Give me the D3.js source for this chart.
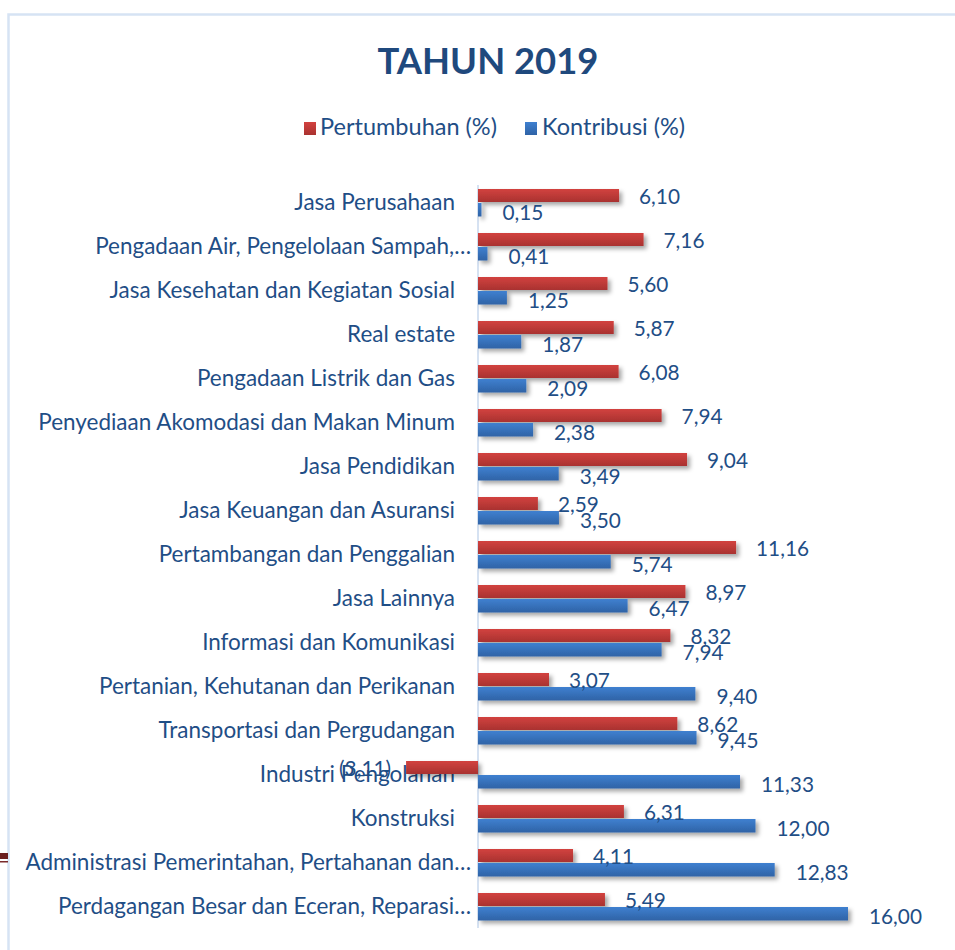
<!DOCTYPE html>
<html>
<head>
<meta charset="utf-8">
<script src="https://cdn.jsdelivr.net/npm/d3@7"></script>
<style>
  html, body { margin: 0; padding: 0; background: #fff; }
  svg { display: block; }
  text { font-family: Lato, "Open Sans", "Noto Sans", sans-serif; }
</style>
</head>
<body>
<svg id="chart" width="955" height="950"></svg>
<script>
const categories = [
  "Jasa Perusahaan",
  "Pengadaan Air, Pengelolaan Sampah,…",
  "Jasa Kesehatan dan Kegiatan Sosial",
  "Real estate",
  "Pengadaan Listrik dan Gas",
  "Penyediaan Akomodasi dan Makan Minum",
  "Jasa Pendidikan",
  "Jasa Keuangan dan Asuransi",
  "Pertambangan dan Penggalian",
  "Jasa Lainnya",
  "Informasi dan Komunikasi",
  "Pertanian, Kehutanan dan Perikanan",
  "Transportasi dan Pergudangan",
  "Industri Pengolahan",
  "Konstruksi",
  "Administrasi Pemerintahan, Pertahanan dan…",
  "Perdagangan Besar dan Eceran, Reparasi…"
];
const pertumbuhan = [6.10, 7.16, 5.60, 5.87, 6.08, 7.94, 9.04, 2.59, 11.16, 8.97, 8.32, 3.07, 8.62, -3.11, 6.31, 4.11, 5.49];
const kontribusi  = [0.15, 0.41, 1.25, 1.87, 2.09, 2.38, 3.49, 3.50, 5.74, 6.47, 7.94, 9.40, 9.45, 11.33, 12.00, 12.83, 16.00];
const seriesNames = ["Pertumbuhan (%)", "Kontribusi (%)"];
const title = "TAHUN 2019";

const textColor = "#1f4e86";
const svg = d3.select("#chart");
const defs = svg.append("defs");

function grad(id, top, bottom) {
  const g = defs.append("linearGradient").attr("id", id).attr("x1", 0).attr("y1", 0).attr("x2", 0).attr("y2", 1);
  g.append("stop").attr("offset", "0%").attr("stop-color", top);
  g.append("stop").attr("offset", "100%").attr("stop-color", bottom);
}
grad("gRed", "#d2423f", "#a93230");
grad("gBlue", "#3f80d0", "#2f63a6");
const f = defs.append("filter").attr("id", "shadow").attr("x", "-10%").attr("y", "-50%").attr("width", "130%").attr("height", "250%");
f.append("feDropShadow").attr("dx", 3).attr("dy", 3).attr("stdDeviation", 2.2).attr("flood-color", "#000").attr("flood-opacity", 0.35);

// frame
svg.append("path").attr("d", "M8.5,950 L8.5,14.5 L955,14.5").attr("fill", "none").attr("stroke", "#d6e3f4").attr("stroke-width", 2.5);
// left-edge artifacts from slide
svg.append("rect").attr("x", 0).attr("y", 853).attr("width", 8).attr("height", 6).attr("fill", "#6b1f1f");
svg.append("rect").attr("x", 0).attr("y", 861).attr("width", 8).attr("height", 1.5).attr("fill", "#7a2b2b");

// fit font size helper
function fit(sel, target) {
  const fs = parseFloat(sel.attr("font-size"));
  const w = sel.node().getComputedTextLength();
  sel.attr("font-size", (fs * target / w).toFixed(2));
}

// title
const t = svg.append("text").attr("x", 488).attr("y", 74).attr("text-anchor", "middle")
  .attr("font-size", 36).attr("font-weight", 700).attr("fill", "#1f497d").text(title);
fit(t, 221);

// scales
const x = d3.scaleLinear().domain([0, 16]).range([478, 848]);
const y = d3.scaleBand().domain(categories).range([180.5, 928.5]).paddingInner(0).paddingOuter(0);
const bh = 13.5;

// legend
const legend = svg.append("g");
const lg1 = legend.append("g");
lg1.append("rect").attr("x", 304).attr("y", 122).attr("width", 12).attr("height", 13).attr("fill", "url(#gRed)");
const lt1 = lg1.append("text").attr("x", 320).attr("y", 135).attr("font-size", 20).attr("fill", textColor).text(seriesNames[0]);
fit(lt1, 177);
const lg2 = legend.append("g");
lg2.append("rect").attr("x", 525).attr("y", 122).attr("width", 12).attr("height", 13).attr("fill", "url(#gBlue)");
const lt2 = lg2.append("text").attr("x", 542).attr("y", 135).attr("font-size", lt1.attr("font-size")).attr("fill", textColor).text(seriesNames[1]);

// axis line
svg.append("line").attr("x1", x(0)).attr("x2", x(0)).attr("y1", 185).attr("y2", 928)
  .attr("stroke", "#c9d8ee").attr("stroke-width", 1.5);

// category labels
const catG = svg.append("g");
const probe = catG.append("text").attr("font-size", 20).text("Penyediaan Akomodasi dan Makan Minum");
fit(probe, 417);
const catFs = probe.attr("font-size");
probe.remove();
catG.selectAll("text").data(categories).join("text")
  .attr("x", d => d.endsWith("…") ? 471 : 455)
  .attr("y", d => y(d) + y.bandwidth() / 2)
  .attr("dy", "0.35em")
  .attr("text-anchor", "end")
  .attr("font-size", catFs)
  .attr("fill", textColor)
  .text(d => d);

const fmt = v => {
  const s = Math.abs(v).toFixed(2).replace(".", ",");
  return v < 0 ? "(" + s + ")" : s;
};

// bars
const barsG = svg.append("g").attr("filter", "url(#shadow)");
barsG.selectAll("rect.r").data(categories).join("rect").attr("class", "r")
  .attr("x", (d, i) => x(Math.min(0, pertumbuhan[i])))
  .attr("width", (d, i) => Math.abs(x(pertumbuhan[i]) - x(0)))
  .attr("y", d => y(d) + y.bandwidth() / 2 - bh)
  .attr("height", bh - 0.5)
  .attr("fill", "url(#gRed)");
barsG.selectAll("rect.b").data(categories).join("rect").attr("class", "b")
  .attr("x", (d, i) => x(0))
  .attr("width", (d, i) => x(kontribusi[i]) - x(0))
  .attr("y", d => y(d) + y.bandwidth() / 2 + 0.5)
  .attr("height", bh)
  .attr("fill", "url(#gBlue)");

// value labels
const valG = svg.append("g");
const vprobe = valG.append("text").attr("font-size", 20).text("16,00");
fit(vprobe, 53);
const valFs = vprobe.attr("font-size");
vprobe.remove();
valG.selectAll("text.r").data(categories).join("text").attr("class", "r")
  .attr("x", (d, i) => pertumbuhan[i] < 0 ? x(pertumbuhan[i]) - 15 : x(pertumbuhan[i]) + 20)
  .attr("text-anchor", (d, i) => pertumbuhan[i] < 0 ? "end" : "start")
  .attr("y", d => y(d) + y.bandwidth() / 2 - bh / 2 + 1)
  .attr("dy", "0.35em")
  .attr("font-size", valFs)
  .attr("fill", textColor)
  .text((d, i) => fmt(pertumbuhan[i]));
valG.selectAll("text.b").data(categories).join("text").attr("class", "b")
  .attr("x", (d, i) => x(kontribusi[i]) + 21)
  .attr("y", d => y(d) + y.bandwidth() / 2 + bh / 2 + 3)
  .attr("dy", "0.35em")
  .attr("font-size", valFs)
  .attr("fill", textColor)
  .text((d, i) => fmt(kontribusi[i]));
</script>
</body>
</html>
